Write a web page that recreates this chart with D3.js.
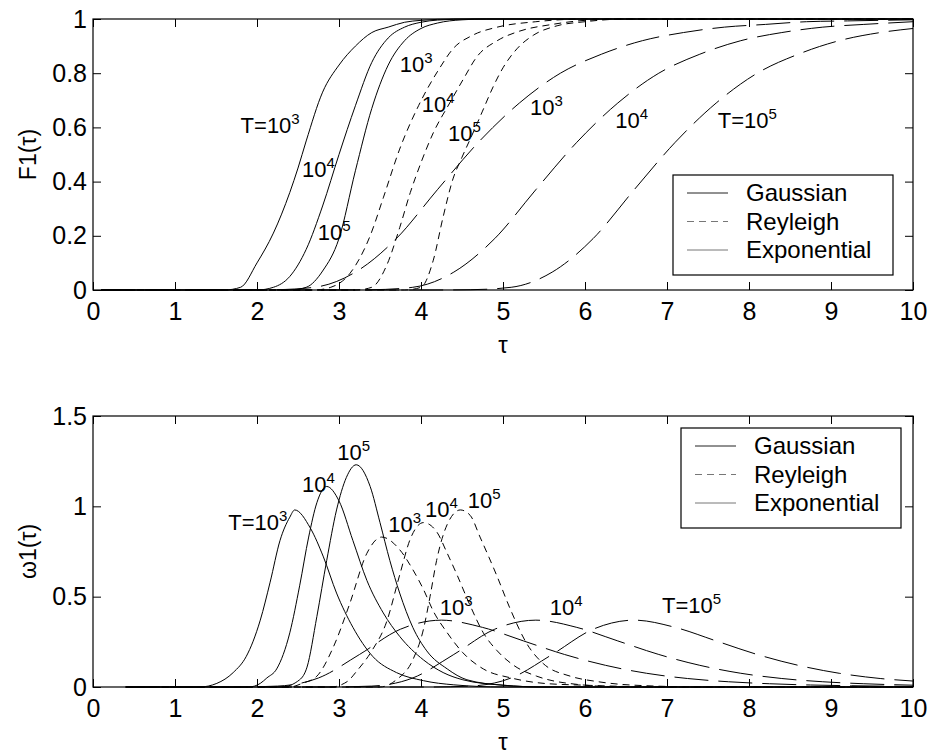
<!DOCTYPE html>
<html>
<head>
<meta charset="utf-8">
<style>
body { margin: 0; background: #fff; }
svg { font-family: "Liberation Sans", Arial, sans-serif; }
</style>
<script src="https://d3js.org/d3.v7.min.js"></script>
</head>
<body>
<svg id="chart" width="928" height="756"></svg>
<script>

// ---- data ----
var tauTicks = [0, 1, 2, 3, 4, 5, 6, 7, 8, 9, 10];
var f1Ticks = [0, 0.2, 0.4, 0.6, 0.8, 1];
var w1Ticks = [0, 0.5, 1, 1.5];
var legendNames = ["Gaussian", "Reyleigh", "Exponential"];

// upper panel, F1(tau): [tau, F1]
var F1_gauss_1e3 = [[0.1,0],[1.6,0],[1.8,0.01],[2.0,0.1],[2.2,0.21],[2.4,0.36],[2.5,0.45],[2.6,0.55],[2.8,0.73],[3.0,0.83],[3.2,0.9],[3.4,0.95],[3.6,0.97],[3.8,0.988],[4.0,0.995],[4.4,1],[10,1]];
var F1_gauss_1e4 = [[0.1,0],[2.0,0],[2.2,0.01],[2.4,0.05],[2.6,0.15],[2.8,0.31],[3.0,0.5],[3.2,0.68],[3.4,0.84],[3.6,0.93],[3.8,0.97],[4.0,0.988],[4.2,0.996],[4.6,1],[10,1]];
var F1_gauss_1e5 = [[0.1,0],[2.4,0],[2.6,0.01],[2.8,0.07],[3.0,0.19],[3.2,0.44],[3.4,0.67],[3.6,0.83],[3.8,0.92],[4.0,0.965],[4.2,0.985],[4.5,0.997],[4.8,1],[10,1]];

var F1_rayl_1e3 = [[0.1,0],[2.7,0],[2.9,0.01],[3.13,0.06],[3.38,0.2],[3.54,0.34],[3.74,0.52],[3.97,0.68],[4.23,0.82],[4.39,0.89],[4.63,0.94],[4.93,0.97],[5.4,0.99],[6,1],[10,1]];
var F1_rayl_1e4 = [[0.1,0],[3.2,0],[3.4,0.01],[3.58,0.09],[3.74,0.23],[3.87,0.36],[4.0,0.47],[4.15,0.58],[4.35,0.69],[4.52,0.78],[4.68,0.86],[4.93,0.92],[5.2,0.955],[5.6,0.98],[6.0,0.995],[6.5,1],[10,1]];
var F1_rayl_1e5 = [[0.1,0],[3.8,0],[4.0,0.01],[4.15,0.11],[4.27,0.27],[4.39,0.41],[4.5,0.49],[4.62,0.57],[4.75,0.66],[4.88,0.75],[5.0,0.82],[5.17,0.89],[5.37,0.94],[5.66,0.975],[6.0,0.99],[6.5,1],[10,1]];

var F1_expo_1e3 = [[0.1,0],[1.7,0],[2.2,0.001],[2.7,0.01],[3.2,0.066],[3.7,0.19],[4.2,0.37],[4.7,0.545],[5.2,0.69],[5.7,0.8],[6.2,0.87],[6.7,0.92],[7.2,0.95],[7.7,0.97],[8.2,0.98],[8.7,0.99],[9.2,0.993],[10,0.997]];
var F1_expo_1e4 = [[0.1,0],[2.9,0],[3.4,0.001],[3.9,0.01],[4.4,0.066],[4.9,0.19],[5.4,0.37],[5.9,0.545],[6.4,0.69],[6.9,0.8],[7.4,0.87],[7.9,0.92],[8.4,0.95],[8.9,0.97],[9.4,0.98],[10,0.99]];
var F1_expo_1e5 = [[0.1,0],[4.1,0],[4.6,0.001],[5.1,0.01],[5.6,0.066],[6.1,0.19],[6.6,0.37],[7.1,0.545],[7.6,0.69],[8.1,0.8],[8.6,0.87],[9.1,0.92],[9.6,0.95],[10,0.965]];

// lower panel, omega1(tau): [tau, omega1]
var W1_gauss_1e3 = [[0.4,0],[1.3,0],[1.51,0.02],[1.71,0.08],[1.87,0.17],[1.95,0.25],[2.04,0.37],[2.16,0.58],[2.28,0.81],[2.4,0.94],[2.46,0.98],[2.65,0.88],[2.81,0.72],[2.97,0.52],[3.17,0.33],[3.41,0.17],[3.7,0.08],[4.03,0.035],[4.4,0.012],[5,0],[10,0]];
var W1_gauss_1e4 = [[0.4,0],[1.9,0],[2.04,0.02],[2.12,0.05],[2.24,0.1],[2.4,0.3],[2.52,0.56],[2.63,0.83],[2.73,1.02],[2.85,1.11],[3.0,1.03],[3.17,0.81],[3.34,0.59],[3.54,0.41],[3.74,0.28],[4.03,0.15],[4.27,0.08],[4.51,0.04],[5.0,0.01],[5.5,0],[10,0]];
var W1_gauss_1e5 = [[0.4,0],[2.3,0],[2.52,0.04],[2.61,0.11],[2.73,0.39],[2.85,0.7],[2.97,0.98],[3.09,1.16],[3.21,1.23],[3.38,1.11],[3.5,0.91],[3.62,0.7],[3.74,0.52],[3.9,0.33],[4.07,0.2],[4.32,0.1],[4.56,0.04],[5.0,0.01],[5.5,0],[10,0]];

var W1_rayl_1e3 = [[0.4,0],[2.4,0],[2.55,0.02],[2.73,0.06],[2.93,0.22],[3.13,0.46],[3.34,0.74],[3.52,0.83],[3.74,0.76],[3.9,0.65],[4.03,0.54],[4.15,0.42],[4.32,0.3],[4.51,0.19],[4.76,0.1],[5.1,0.05],[5.5,0.02],[6,0.01],[7,0],[10,0]];
var W1_rayl_1e4 = [[0.4,0],[2.9,0],[3.1,0.03],[3.22,0.09],[3.4,0.2],[3.58,0.36],[3.74,0.62],[3.87,0.82],[4.03,0.91],[4.19,0.86],[4.32,0.74],[4.44,0.62],[4.6,0.45],[4.76,0.3],[4.93,0.2],[5.13,0.12],[5.41,0.06],[5.8,0.02],[6.5,0],[10,0]];
var W1_rayl_1e5 = [[0.4,0],[3.5,0],[3.7,0.04],[3.9,0.15],[4.03,0.32],[4.11,0.5],[4.19,0.7],[4.32,0.9],[4.48,0.98],[4.6,0.95],[4.72,0.83],[4.93,0.61],[5.09,0.43],[5.29,0.24],[5.49,0.13],[5.82,0.06],[6.15,0.03],[6.6,0.01],[7.5,0],[10,0]];

var W1_expo_1e3 = [[0.4,0],[1.75,0],[2.25,0.005],[2.75,0.05],[3.25,0.18],[3.75,0.32],[4.25,0.37],[4.75,0.33],[5.25,0.255],[5.75,0.18],[6.25,0.12],[6.75,0.076],[7.25,0.047],[7.75,0.029],[8.25,0.018],[8.75,0.011],[9.25,0.007],[10,0.003]];
var W1_expo_1e4 = [[0.4,0],[2.9,0],[3.4,0.005],[3.9,0.05],[4.4,0.18],[4.9,0.32],[5.4,0.37],[5.9,0.33],[6.4,0.255],[6.9,0.18],[7.4,0.12],[7.9,0.076],[8.4,0.047],[8.9,0.029],[9.4,0.018],[10,0.01]];
var W1_expo_1e5 = [[0.4,0],[4.1,0],[4.6,0.005],[5.1,0.05],[5.6,0.18],[6.1,0.32],[6.6,0.37],[7.1,0.33],[7.6,0.255],[8.1,0.18],[8.6,0.12],[9.1,0.076],[9.6,0.047],[10,0.033]];

// curve annotations: [text before superscript, exponent, tau, value]
var F1_labels = [["T=10","3",1.80,0.579],["10","4",2.55,0.417],["10","5",2.74,0.185],
                 ["10","3",3.74,0.804],["10","4",4.01,0.657],["10","5",4.33,0.55],
                 ["10","3",5.33,0.646],["10","4",6.37,0.598],["T=10","5",7.62,0.598]];
var W1_labels = [["T=10","3",1.65,0.869],["10","4",2.55,1.079],["10","5",2.98,1.256],
                 ["10","3",3.60,0.858],["10","4",4.05,0.941],["10","5",4.57,0.991],
                 ["10","3",4.23,0.398],["10","4",5.57,0.398],["T=10","5",6.94,0.41]];

// ---- drawing ----
var svg = d3.select("#chart");
var plotLeft = 93, plotWidth = 820, plotHeight = 271;

// line style per family: gaussian solid, reyleigh dashed, exponential long dashes
var dashes = [null, "7,5", "34,10"];

var x = d3.scaleLinear().domain([0, 10]).range([0, plotWidth]);

function drawPanel(top, yMax, yTicks, series, labels, yLabel, legendBox) {
    var y = d3.scaleLinear().domain([0, yMax]).range([plotHeight, 0]);
    var g = svg.append("g").attr("transform", "translate(" + plotLeft + "," + top + ")");

    var line = d3.line()
        .x(function(d) { return x(d[0]); })
        .y(function(d) { return y(d[1]); })
        .curve(d3.curveMonotoneX);

    series.forEach(function(fam, i) {
        fam.forEach(function(pts) {
            g.append("path")
                .attr("d", line(pts))
                .attr("fill", "none")
                .attr("stroke", "#000")
                .attr("stroke-width", 1)
                .attr("stroke-dasharray", dashes[i]);
        });
    });

    // axes with inward ticks on all four sides (matlab box)
    var fmt = function(d) { return String(d); };
    g.append("g").attr("class", "axis")
        .attr("transform", "translate(0," + plotHeight + ")")
        .call(d3.axisBottom(x).tickValues(tauTicks).tickFormat(fmt).tickSize(-8).tickSizeOuter(0).tickPadding(12));
    g.append("g").attr("class", "axis")
        .call(d3.axisTop(x).tickValues(tauTicks).tickFormat("").tickSize(-8).tickSizeOuter(0));
    g.append("g").attr("class", "axis")
        .call(d3.axisLeft(y).tickValues(yTicks).tickFormat(fmt).tickSize(-8).tickSizeOuter(0).tickPadding(6));
    g.append("g").attr("class", "axis")
        .attr("transform", "translate(" + plotWidth + ",0)")
        .call(d3.axisRight(y).tickValues(yTicks).tickFormat("").tickSize(-8).tickSizeOuter(0));
    g.selectAll(".axis .domain").remove();
    g.selectAll(".axis text").attr("font-size", 25).attr("font-family", "Liberation Sans, Arial, sans-serif").attr("fill", "#000");
    g.selectAll(".axis line").attr("stroke", "#000");

    g.append("rect")
        .attr("width", plotWidth).attr("height", plotHeight)
        .attr("fill", "none").attr("stroke", "#000").attr("stroke-width", 1.2);

    // curve annotations
    labels.forEach(function(l) {
        var t = g.append("text")
            .attr("x", x(l[2])).attr("y", y(l[3]))
            .attr("font-size", 22);
        t.append("tspan").text(l[0]);
        t.append("tspan").attr("dy", -9).attr("font-size", 15).text(l[1]);
    });

    // axis titles
    g.append("text")
        .attr("x", plotWidth / 2).attr("y", plotHeight + 63)
        .attr("text-anchor", "middle").attr("font-size", 24)
        .text("\u03c4");
    g.append("text")
        .attr("transform", "translate(-57," + (plotHeight / 2) + ") rotate(-90)")
        .attr("text-anchor", "middle").attr("font-size", 23)
        .text(yLabel);

    // legend
    var lg = g.append("g").attr("transform", "translate(" + legendBox[0] + "," + legendBox[1] + ")");
    lg.append("rect")
        .attr("width", 220).attr("height", 100)
        .attr("fill", "#fff").attr("stroke", "#000").attr("stroke-width", 1.2);
    var legendStroke = ["#222", "#777", "#777"];
    legendNames.forEach(function(name, i) {
        var ry = 18 + i * 28.5;
        lg.append("line")
            .attr("x1", 14).attr("x2", 55).attr("y1", ry).attr("y2", ry)
            .attr("stroke", legendStroke[i]).attr("stroke-width", 1)
            .attr("stroke-dasharray", i === 1 ? "7,5" : null);
        lg.append("text")
            .attr("x", 73).attr("y", ry + 8)
            .attr("font-size", 24)
            .text(name);
    });
}

drawPanel(19, 1, f1Ticks,
    [[F1_gauss_1e3, F1_gauss_1e4, F1_gauss_1e5],
     [F1_rayl_1e3, F1_rayl_1e4, F1_rayl_1e5],
     [F1_expo_1e3, F1_expo_1e4, F1_expo_1e5]],
    F1_labels, "F1(\u03c4)", [580, 156]);

drawPanel(416, 1.5, w1Ticks,
    [[W1_gauss_1e3, W1_gauss_1e4, W1_gauss_1e5],
     [W1_rayl_1e3, W1_rayl_1e4, W1_rayl_1e5],
     [W1_expo_1e3, W1_expo_1e4, W1_expo_1e5]],
    W1_labels, "\u03c91(\u03c4)", [588, 12]);

</script>
</body>
</html>
